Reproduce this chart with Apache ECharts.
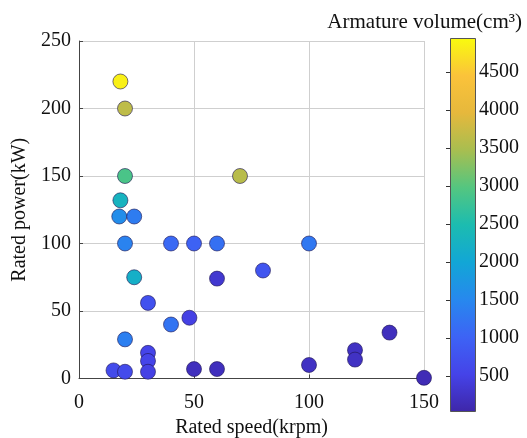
<!DOCTYPE html>
<html>
<head>
<meta charset="utf-8">
<script src="https://cdn.jsdelivr.net/npm/echarts@6/dist/echarts.min.js"></script>
<style>
  html, body { margin: 0; padding: 0; background: #fff; }
  #chart { width: 527px; height: 438px; }
</style>
</head>
<body>
<div id="chart"></div>
<script>
// ---- Data ----
const speed  = [18, 20, 70, 20, 18, 17.5, 24, 20, 40, 50, 60, 100, 80, 24, 60, 30, 40, 48, 20, 30, 30, 30, 15, 20, 50, 60, 135, 120, 120, 100, 150];
const power  = [220, 200, 150, 150, 132, 120, 120, 100, 100, 100, 100, 100, 80, 75, 74, 56, 40, 45, 29, 19, 13, 5, 6, 5, 7, 7, 34, 21, 14, 10, 0.5];
const volume = [4850, 3650, 3600, 2900, 2300, 1600, 1350, 1450, 1100, 1000, 1200, 1300, 800, 2200, 350, 750, 1250, 500, 1400, 550, 550, 500, 650, 650, 200, 200, 200, 250, 250, 250, 150];
const xTicks = [0, 50, 100, 150];
const yTicks = [0, 50, 100, 150, 200, 250];
const cbTicks = [500, 1000, 1500, 2000, 2500, 3000, 3500, 4000, 4500];
const cbMin = 40, cbMax = 4950;
const parula = ['#3e26a8', '#4543e8', '#3d63f5', '#2788ee', '#12a6d6', '#1cbcb0', '#54c680', '#a8be50', '#e6b83c', '#fbc33a', '#f9fb0e'];

const points = speed.map((s, i) => [s, power[i], volume[i]]);

const FONT = 'Liberation Serif';
const chart = echarts.init(document.getElementById('chart'), null, { renderer: 'canvas' });

const cbLeft = 450, cbTop = 38, cbW = 25, cbH = 373;

chart.setOption({
  animation: false,
  backgroundColor: '#fff',
  textStyle: { fontFamily: FONT, color: '#000' },
  title: {
    text: 'Armature volume(cm³)',
    right: 0, top: 7,
    textStyle: { fontFamily: FONT, fontSize: 21, fontWeight: 'normal', color: '#111' }
  },
  grid: [
    { left: 79, top: 41, right: 103, bottom: 59.5, containLabel: false, outerBoundsMode: 'none' },
    { left: cbLeft, top: cbTop, width: cbW, height: cbH, show: false, containLabel: false, outerBoundsMode: 'none' }
  ],
  xAxis: [
    {
      gridIndex: 0, type: 'value', min: xTicks[0], max: xTicks[xTicks.length - 1], interval: 50,
      name: 'Rated speed(krpm)', nameLocation: 'middle', nameGap: 38,
      nameTextStyle: { fontFamily: FONT, fontSize: 20, color: '#111' },
      axisLine: { show: true, lineStyle: { color: '#444', width: 1 } },
      axisTick: { show: true, inside: true, length: 4, lineStyle: { color: '#444' } },
      axisLabel: { fontFamily: FONT, fontSize: 20, color: '#111', margin: 14 },
      splitLine: { show: true, lineStyle: { color: '#cfcfcf', width: 1 } }
    },
    {
      gridIndex: 1, type: 'value', min: 0, max: 1, show: false
    }
  ],
  yAxis: [
    {
      gridIndex: 0, type: 'value', min: yTicks[0], max: yTicks[yTicks.length - 1], interval: 50,
      name: 'Rated power(kW)', nameLocation: 'middle', nameGap: 47,
      nameTextStyle: { fontFamily: FONT, fontSize: 20, color: '#111' },
      axisLine: { show: true, lineStyle: { color: '#444', width: 1 } },
      axisTick: { show: true, inside: true, length: 4, lineStyle: { color: '#444' } },
      axisLabel: { fontFamily: FONT, fontSize: 20, color: '#111', margin: 8 },
      splitLine: { show: true, lineStyle: { color: '#cfcfcf', width: 1 } }
    },
    {
      gridIndex: 1, type: 'value', position: 'right', min: cbMin, max: cbMax,
      axisLine: { show: false },
      axisTick: { show: true, inside: true, length: 4, customValues: cbTicks, lineStyle: { color: '#333' } },
      axisLabel: { fontFamily: FONT, fontSize: 20, color: '#111', margin: 4, customValues: cbTicks, formatter: v => String(v) },
      splitLine: { show: false },
      z: 12
    }
  ],
  visualMap: {
    show: false, type: 'continuous', dimension: 2, seriesIndex: 0,
    min: cbMin, max: cbMax,
    inRange: { color: parula }
  },
  graphic: [{
    type: 'rect', left: cbLeft, top: cbTop, z: 5,
    shape: { width: cbW, height: cbH },
    style: {
      fill: new echarts.graphic.LinearGradient(0, 1, 0, 0,
        parula.map((c, i) => ({ offset: i / (parula.length - 1), color: c }))),
      stroke: '#555', lineWidth: 1
    }
  }],
  series: [{
    type: 'scatter', xAxisIndex: 0, yAxisIndex: 0,
    data: points, symbolSize: 15,
    itemStyle: { opacity: 1, borderColor: 'rgba(30,20,80,0.6)', borderWidth: 1 },
    clip: false
  }]
});
</script>
</body>
</html>
